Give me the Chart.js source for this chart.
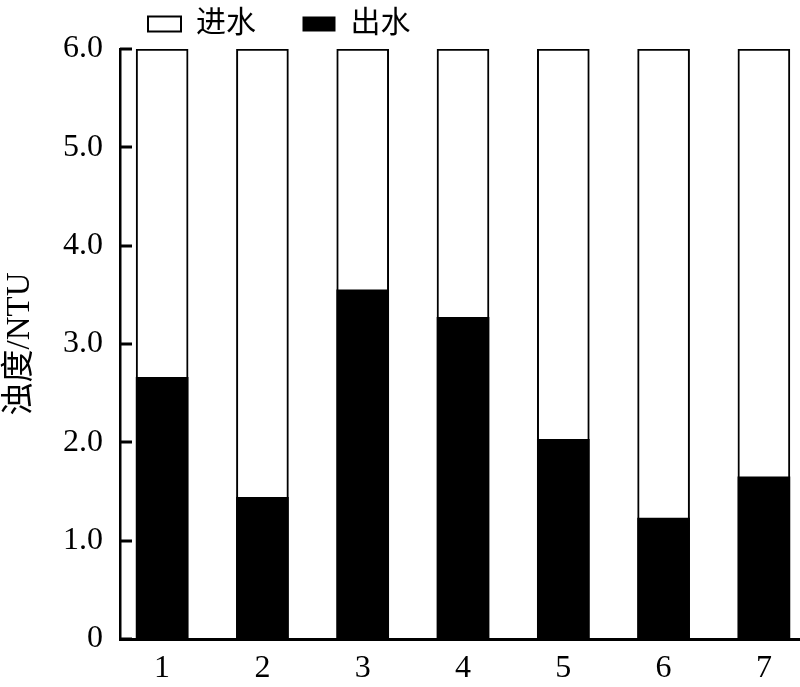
<!DOCTYPE html>
<html>
<head>
<meta charset="utf-8">
<title>浊度</title>
<script src="https://cdn.jsdelivr.net/npm/chart.js@4.4.1/dist/chart.umd.min.js"></script>
<style>
  html, body { margin: 0; padding: 0; background: #fff; }
  #wrap { width: 800px; height: 687px; }
</style>
</head>
<body>
<div id="wrap"><canvas id="turbidityChart" width="800" height="687"></canvas></div>
<script>
// -----------------------------
// Data
// -----------------------------
const categories = [1, 2, 3, 4, 5, 6, 7];
const seriesNames = ["进水", "出水"];
// inflow bars run off the top of the axis, so they read as 6.0
const influent = [6.0, 6.0, 6.0, 6.0, 6.0, 6.0, 6.0];
const effluent = [2.66, 1.44, 3.55, 3.27, 2.03, 1.23, 1.65];
const yTicks = [0, 1, 2, 3, 4, 5, 6];

const FONT = '"Liberation Serif", "Times New Roman", "Noto Sans CJK SC", serif';

Chart.defaults.color = "#000";
Chart.defaults.font.family = FONT;

// legend sits left of centre in the reference
const legendShift = {
  id: "legendShift",
  afterLayout(chart) {
    if (chart.legend) chart.legend.left += 139;
  }
};

// y ticks point into the plot, short marks off the axis line
const innerTicks = {
  id: "innerTicks",
  afterDatasetsDraw(chart) {
    const y = chart.scales.y;
    const c = chart.ctx;
    c.save();
    c.strokeStyle = "#000";
    c.lineWidth = 3;
    c.beginPath();
    y.ticks.forEach(t => {
      const py = Math.round(y.getPixelForValue(t.value));
      c.moveTo(y.right, py);
      c.lineTo(y.right + 12, py);
    });
    c.stroke();
    c.restore();
  }
};

function toPoints(values) {
  return categories.map((c, i) => ({ x: c, y: values[i] }));
}

// -----------------------------
// Chart
// -----------------------------
function renderChart() {
  const ctx = document.getElementById("turbidityChart").getContext("2d");

  new Chart(ctx, {
    type: "bar",
    data: {
      datasets: [
        {
          label: seriesNames[0],
          data: toPoints(influent),
          backgroundColor: "#fff",
          borderColor: "#000",
          borderWidth: 2,
          barThickness: 52,
          grouped: false,
          order: 1
        },
        {
          label: seriesNames[1],
          data: toPoints(effluent),
          backgroundColor: "#000",
          borderColor: "#000",
          borderWidth: 0,
          barThickness: 52,
          grouped: false,
          order: 0
        }
      ]
    },
    options: {
      responsive: false,
      animation: false,
      layout: { padding: 0 },
      plugins: {
        tooltip: { enabled: false },
        legend: {
          display: true,
          position: "top",
          align: "start",
          labels: {
            boxWidth: 33,
            boxHeight: 15,
            padding: 9,
            font: { size: 30, family: FONT },
            color: "#000",
            generateLabels(chart) {
              const items = Chart.defaults.plugins.legend.labels.generateLabels(chart);
              items.sort((a, b) => a.datasetIndex - b.datasetIndex);
              items.forEach(it => {
                if (it.datasetIndex === 0) it.text += "     ";
              });
              return items;
            }
          }
        }
      },
      scales: {
        x: {
          type: "linear",
          offset: false,
          min: 0.58,
          max: 7.36,
          afterBuildTicks: s => { s.ticks = categories.map(v => ({ value: v })); },
          afterFit: s => { s.height = 48; },
          ticks: {
            font: { size: 32, family: FONT },
            color: "#000",
            padding: 10,
            callback: v => String(v)
          },
          grid: { display: false, drawTicks: false },
          border: { display: true, color: "#000", width: 3 }
        },
        y: {
          min: 0,
          max: 6,
          afterBuildTicks: s => { s.ticks = yTicks.map(v => ({ value: v })); },
          afterFit: s => { s.width = 120; },
          ticks: {
            font: { size: 32, family: FONT },
            color: "#000",
            padding: 17,
            callback: v => (v === 0 ? "0" : v.toFixed(1))
          },
          grid: { display: false, drawTicks: false },
          border: { display: true, color: "#000", width: 2.5 },
          title: {
            display: true,
            text: "浊度/NTU",
            font: { size: 33, family: FONT },
            color: "#000",
            padding: { top: 1, bottom: 0 }
          }
        }
      }
    },
    plugins: [legendShift, innerTicks]
  });
}

document.addEventListener("DOMContentLoaded", () => {
  renderChart();
});
</script>
</body>
</html>
